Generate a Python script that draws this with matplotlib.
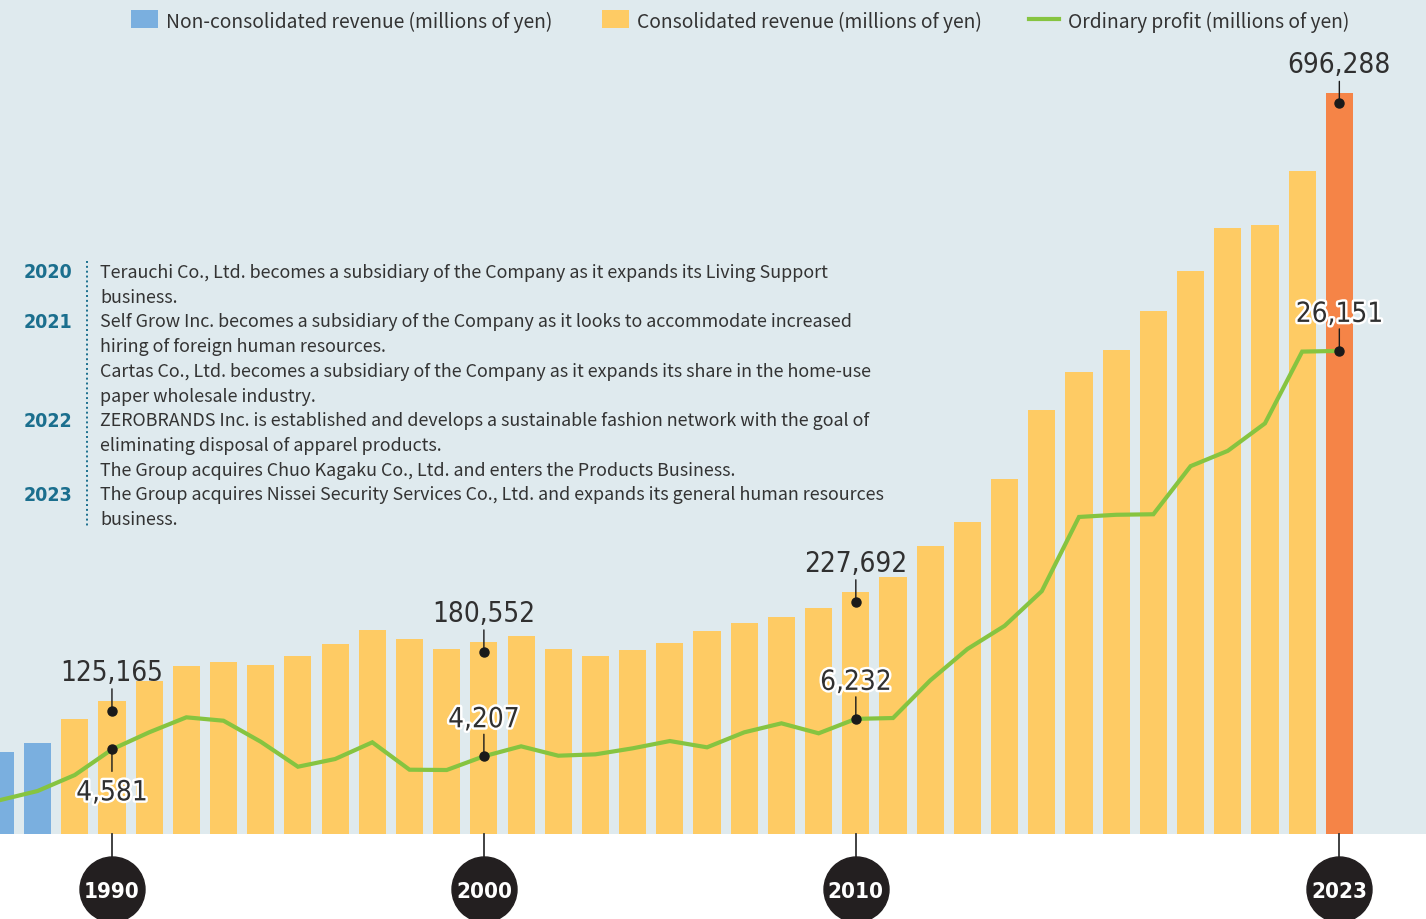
import matplotlib
matplotlib.use('Agg')
import matplotlib.pyplot as plt
from matplotlib.patches import Rectangle
from matplotlib.lines import Line2D
import matplotlib.patheffects as pe
import matplotlib.transforms as mtransforms

# ---------------- data ----------------
nonconsol_years = [1987, 1988]
nonconsol_revenue = [77050, 85510]

consol_years = list(range(1989, 2023))
consol_revenue = [108060, 125165, 143770, 157860, 161620, 158800, 167260, 178540,
                  191690, 183230, 173840, 180552, 186050, 173840, 167260, 172900,
                  179480, 190750, 198270, 203910, 212360, 227692, 241490, 270620,
                  293170, 333580, 398420, 434120, 454800, 491440, 529030, 569430,
                  572250, 623000]

latest_year = [2023]
latest_revenue = [696288]

profit_years = list(range(1987, 2024))
ordinary_profit = [1840, 2327, 3192, 4581, 5504, 6316, 6132, 4995, 3642, 4059,
                   4963, 3480, 3464, 4207, 4746, 4238, 4313, 4638, 5033, 4692,
                   5504, 5991, 5450, 6232, 6278, 8313, 10012, 11268, 13146, 17162,
                   17280, 17308, 19911, 20739, 22227, 26113, 26151]

rev_label_years = [1990, 2000, 2010, 2023]
rev_label_values = [125165, 180552, 227692, 696288]
profit_label_years = [1990, 2000, 2010, 2023]
profit_label_values = [4581, 4207, 6232, 26151]
profit_label_below = [True, False, False, False]

axis_years = [1990, 2000, 2010, 2023]

legend_labels = ["Non-consolidated revenue (millions of yen)",
                 "Consolidated revenue (millions of yen)",
                 "Ordinary profit (millions of yen)"]

history = [
    ("2020", "Terauchi Co., Ltd. becomes a subsidiary of the Company as it expands its Living Support"),
    ("", "business."),
    ("2021", "Self Grow Inc. becomes a subsidiary of the Company as it looks to accommodate increased"),
    ("", "hiring of foreign human resources."),
    ("", "Cartas Co., Ltd. becomes a subsidiary of the Company as it expands its share in the home-use"),
    ("", "paper wholesale industry."),
    ("2022", "ZEROBRANDS Inc. is established and develops a sustainable fashion network with the goal of"),
    ("", "eliminating disposal of apparel products."),
    ("", "The Group acquires Chuo Kagaku Co., Ltd. and enters the Products Business."),
    ("2023", "The Group acquires Nissei Security Services Co., Ltd. and expands its general human resources"),
    ("", "business."),
]

# ---------------- style ----------------
BG = "#dfeaee"
BLUE = "#7aafdf"
YELLOW = "#fecb64"
ORANGE = "#f58447"
GREEN = "#86c440"
TEAL = "#1b6f8e"
DARK = "#303030"
NUM_FONT = dict(family="DejaVu Sans", stretch="condensed")
TXT_FONT = ["Noto Sans CJK JP", "DejaVu Sans"]

W, H = 1426, 920
fig = plt.figure(figsize=(W / 100, H / 100), dpi=100)
fig.patch.set_facecolor("white")

def fx(px):
    return px / W

def fy(py):
    return 1 - py / H

plot_bottom_px = 835
ax = fig.add_axes([0, fy(plot_bottom_px), 1, plot_bottom_px / H])
ax.set_facecolor(BG)
XLIM = (1986.99, 2025.33)
ax.set_xlim(*XLIM)
ax.set_ylim(0, 785000)
for s in ax.spines.values():
    s.set_visible(False)
ax.set_xticks([])
ax.set_yticks([])

bw = 0.73
ax.bar(nonconsol_years, nonconsol_revenue, width=bw, color=BLUE, linewidth=0, zorder=2)
ax.bar(consol_years, consol_revenue, width=bw, color=YELLOW, linewidth=0, zorder=2)
ax.bar(latest_year, latest_revenue, width=bw, color=ORANGE, linewidth=0, zorder=2)

ax2 = ax.twinx()
ax2.set_ylim(0, 45200)
ax2.set_xlim(*XLIM)
ax2.patch.set_visible(False)
for s in ax2.spines.values():
    s.set_visible(False)
ax2.set_yticks([])
ax2.set_xticks([])
ax2.plot(profit_years, ordinary_profit, color=GREEN, lw=3.0, solid_joinstyle="miter", zorder=3)

def pts(px):
    return px * 0.72

halo = [pe.withStroke(linewidth=3.5, foreground="white")]

# revenue markers
for yr, v in zip(rev_label_years, rev_label_values):
    tr = mtransforms.offset_copy(ax.transData, fig=fig, x=0, y=-pts(10), units="points")
    ax.plot([yr], [v], "o", color="#1a1a1a", ms=6.5, transform=tr, zorder=5)
    ax.annotate("", xy=(yr, v), xycoords=tr, xytext=(0, pts(22)), textcoords="offset points",
                arrowprops=dict(arrowstyle="-", color="#1a1a1a", lw=1.0, shrinkA=0, shrinkB=0), zorder=5)
    ax.annotate(f"{v:,}", xy=(yr, v), xycoords=tr, xytext=(0, pts(42)), textcoords="offset points",
                ha="center", va="center_baseline", fontsize=20, color=DARK, zorder=6, **NUM_FONT)

# profit markers
for yr, v, below in zip(profit_label_years, profit_label_values, profit_label_below):
    sgn = -1 if below else 1
    ax2.plot([yr], [v], "o", color="#1a1a1a", ms=6.5, zorder=5)
    ax2.annotate("", xy=(yr, v), xytext=(0, sgn * pts(22)), textcoords="offset points",
                 arrowprops=dict(arrowstyle="-", color="#1a1a1a", lw=1.0, shrinkA=0, shrinkB=0), zorder=5)
    ax2.annotate(f"{v:,}", xy=(yr, v), xytext=(0, sgn * pts(40)), textcoords="offset points",
                 ha="center", va="center_baseline", fontsize=20, color=DARK, zorder=6,
                 path_effects=halo, **NUM_FONT)

# bottom timeline band
axb = fig.add_axes([0, 0, 1, (H - plot_bottom_px) / H])
axb.set_xlim(*XLIM)
axb.set_ylim(0, H - plot_bottom_px)
axb.axis("off")
for yr in axis_years:
    axb.plot([yr, yr], [85, 60], color="#333333", lw=1.3, clip_on=False, zorder=1)
    axb.plot([yr], [30], "o", ms=pts(65), color="#231f20", clip_on=False, zorder=2)
    axb.text(yr, 30, str(yr), ha="center", va="center_baseline", color="white", fontsize=16,
             fontweight="bold", zorder=3, clip_on=False, **NUM_FONT)

# legend (drawn manually at top)
LEG_FS = 13.85
fig.add_artist(Rectangle((fx(131), fy(29)), fx(27), 18 / H, transform=fig.transFigure,
                         color=BLUE, lw=0))
fig.text(fx(166), fy(20), legend_labels[0], ha="left", va="center_baseline", fontsize=LEG_FS,
         color="#333333", family=TXT_FONT)
fig.add_artist(Rectangle((fx(602), fy(29)), fx(27), 18 / H, transform=fig.transFigure,
                         color=YELLOW, lw=0))
fig.text(fx(637), fy(20), legend_labels[1], ha="left", va="center_baseline", fontsize=LEG_FS,
         color="#333333", family=TXT_FONT)
fig.add_artist(Line2D([fx(1029), fx(1059)], [fy(20), fy(20)], transform=fig.transFigure,
                      color=GREEN, lw=3.0))
fig.text(fx(1068), fy(20), legend_labels[2], ha="left", va="center_baseline", fontsize=LEG_FS,
         color="#333333", family=TXT_FONT)

# history text block
fig.add_artist(Line2D([fx(87), fx(87)], [fy(262), fy(527)], transform=fig.transFigure,
                      color=TEAL, lw=1.4, ls=(0, (1, 1.5))))
for i, (yr, txt) in enumerate(history):
    yy = 271 + i * 24.7
    if yr:
        fig.text(fx(72), fy(yy), yr, ha="right", va="center_baseline", fontsize=14,
                 fontweight="bold", color=TEAL, **NUM_FONT)
    fig.text(fx(100), fy(yy), txt, ha="left", va="center_baseline", fontsize=12.9,
             color="#333333", family=TXT_FONT)

fig.savefig("out.png", dpi=100, facecolor=fig.get_facecolor())
